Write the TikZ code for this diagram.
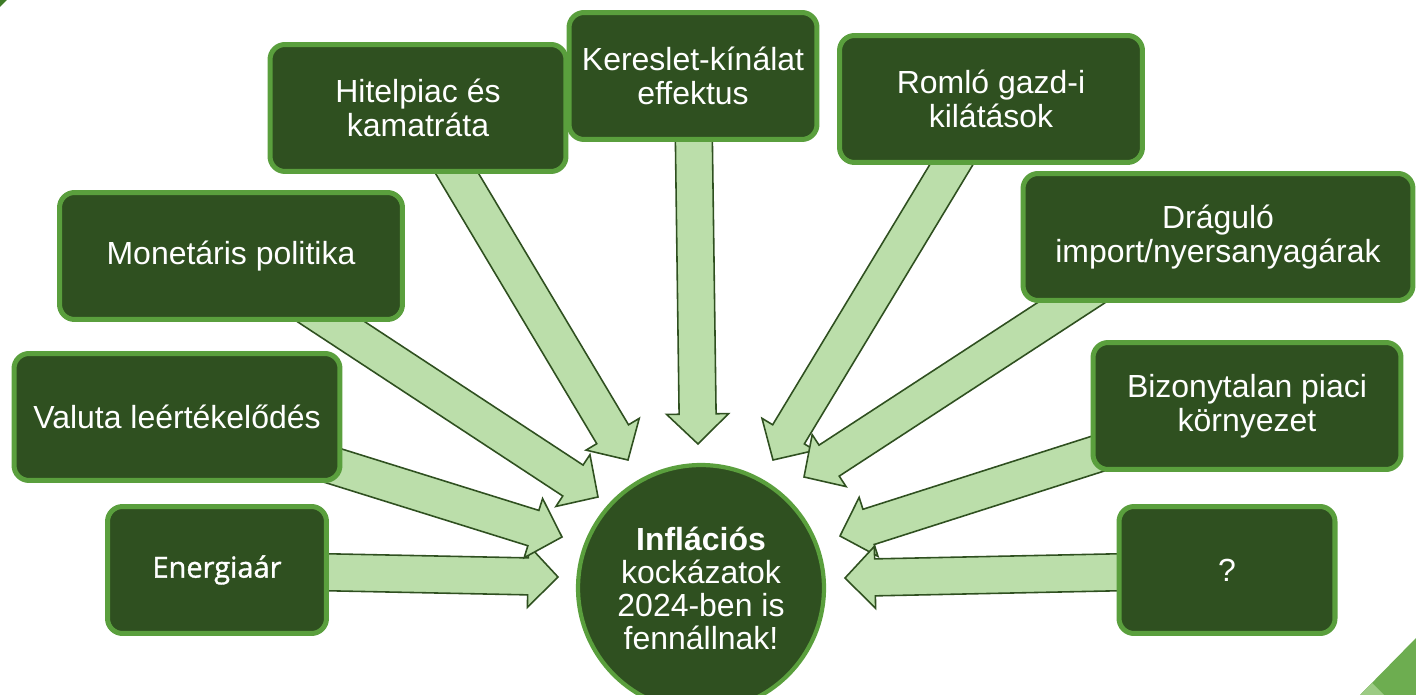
\documentclass[tikz,border=0pt]{standalone}
\usepackage{fontspec}
\setmainfont{Liberation Sans}
\newfontfamily\energyfont[FakeBold=1.2]{Open Sans}
\usetikzlibrary{calc,backgrounds}
\definecolor{boxgreen}{HTML}{2F5020}
\definecolor{rimgreen}{HTML}{5A9F3D}
\definecolor{arrowgreen}{HTML}{BBDEAA}
\definecolor{cornergreen}{HTML}{6DAD50}
\definecolor{cornerlight}{HTML}{9CCB84}
\definecolor{cornerdark}{HTML}{3E7B27}
\tikzstyle{riskbox} = [draw=rimgreen, fill=boxgreen, line width=2.85pt, rectangle, rounded corners=0.3cm, text=white, align=center, inner sep=0pt, minimum height=2.54cm, font=\fontsize{18.2}{19.4}\selectfont]
\tikzstyle{centercircle} = [draw=rimgreen, fill=boxgreen, line width=2.4pt, circle, minimum size=4.92cm, text=white, align=center, inner sep=0pt, font=\fontsize{18.2}{18.8}\selectfont]
\tikzstyle{arrowbody} = [draw=boxgreen, fill=arrowgreen, line width=0.9pt, line join=miter]
\newcommand{\riskarrow}[2]{%
  \coordinate (arrow head base) at ($(#2)!0.6cm!(#1.center)$);
  \draw[arrowbody] ($(#1.center)!0.37cm!90:(#2)$) -- ($(arrow head base)!0.37cm!90:(#2)$)
    -- ($(arrow head base)!0.62cm!90:(#2)$) -- (#2) -- ($(arrow head base)!0.62cm!-90:(#2)$)
    -- ($(arrow head base)!0.37cm!-90:(#2)$) -- ($(#1.center)!0.37cm!-90:(#2)$) -- cycle;}

\begin{document}
\begin{tikzpicture}[x=0.02cm, y=-0.02cm]
\useasboundingbox (0,0) rectangle (1416,695);
% corner marks
\fill[cornerdark] (0,0) -- (7,0) -- (0,7) -- cycle;
\fill[cornergreen] (1416,638) -- (1416,695) -- (1360,695) -- cycle;
\fill[cornerlight] (1360,695) -- (1372,683) -- (1384,695) -- cycle;

\node[centercircle] (inflacio) at (701,588) {\textbf{Inflációs}\\kockázatok\\2024-ben is\\fennállnak!};

% left side
\node[riskbox, minimum width=4.38cm, font=\energyfont\fontsize{16.5}{19}\selectfont] (energia) at (217,570) {Energiaár};
\node[riskbox, minimum width=6.52cm] (valuta) at (177,417) {Valuta leértékelődés};
\node[riskbox, minimum width=6.86cm] (monetaris) at (231,256) {Monetáris politika};
\node[riskbox, minimum width=5.92cm] (hitel) at (418,108) {Hitelpiac és\\kamatráta};
% top
\node[riskbox, minimum width=4.96cm] (kereslet) at (693,76) {Kereslet-kínálat\\effektus};
% right side
\node[riskbox, minimum width=6.06cm] (romlo) at (991,99) {Romló gazd-i\\kilátások};
\node[riskbox, minimum width=7.8cm] (dragulo) at (1218,237) {Dráguló\\import/nyersanyagárak};
\node[riskbox, minimum width=6.16cm] (bizonytalan) at (1247,406) {Bizonytalan piaci\\környezet};
\node[riskbox, minimum width=4.32cm] (kerdes) at (1227,570) {?};

% arrow ends
\coordinate (energia tip) at (558,577);
\coordinate (valuta tip) at (562,537);
\coordinate (monetaris tip) at (598,497);
\coordinate (hitel tip) at (628,460);
\coordinate (kereslet tip) at (698,444);
\coordinate (romlo tip) at (773,460);
\coordinate (dragulo tail) at ([xshift=-0.92cm]dragulo.center);
\coordinate (dragulo tip) at (804,477);
\coordinate (bizonytalan tip) at (840,536);
\coordinate (kerdes tip) at (845,578);

\begin{scope}[on background layer]
\riskarrow{energia}{energia tip}
\riskarrow{valuta}{valuta tip}
\riskarrow{monetaris}{monetaris tip}
\riskarrow{hitel}{hitel tip}
\riskarrow{kereslet}{kereslet tip}
\riskarrow{romlo}{romlo tip}
\riskarrow{dragulo tail}{dragulo tip}
\riskarrow{bizonytalan}{bizonytalan tip}
\riskarrow{kerdes}{kerdes tip}
\end{scope}
\end{tikzpicture}
\end{document}
